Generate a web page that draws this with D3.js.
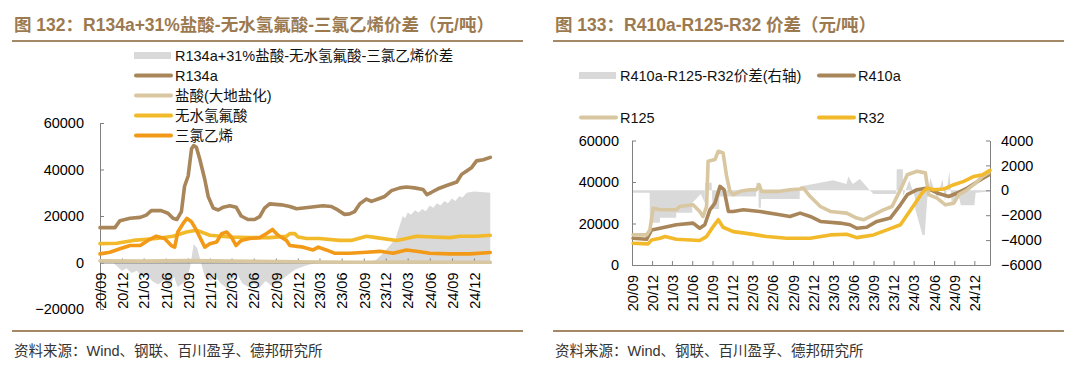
<!DOCTYPE html>
<html><head><meta charset="utf-8">
<script src="https://cdn.jsdelivr.net/npm/d3@7"></script>
<style>body{margin:0;background:#fff}svg{display:block}</style>
</head><body>
<svg id="c" width="1080" height="366"></svg>
<script>
// ---------------- DATA ----------------
const startDate = "2020-09-01", endDate = "2025-02-10";
const tickLabels = ["20/09","20/12","21/03","21/06","21/09","21/12","22/03","22/06","22/09","22/12","23/03","23/06","23/09","23/12","24/03","24/06","24/09","24/12"];
const leftYTicks = [-20000,0,20000,40000,60000];
const rightYTicks = [0,20000,40000,60000];
const rightY2Ticks = [-6000,-4000,-2000,0,2000,4000];

const leftTitle = "图 132：R134a+31%盐酸-无水氢氟酸-三氯乙烯价差（元/吨）";
const rightTitle = "图 133：R410a-R125-R32 价差（元/吨）";
const sourceText = "资料来源：Wind、钢联、百川盈孚、德邦研究所";
const leftNames = ["R134a+31%盐酸-无水氢氟酸-三氯乙烯价差","R134a","盐酸(大地盐化)","无水氢氟酸","三氯乙烯"];
const rightNames = ["R410a-R125-R32价差(右轴)","R410a","R125","R32"];

// left chart series
const spreadL = [["2020-09-01",0],["2020-10-20",300],["2020-11-10",-1500],["2020-12-01",-3500],["2020-12-20",-2500],["2021-01-10",-4500],["2021-02-01",-3500],["2021-02-20",-6000],["2021-03-15",-5000],["2021-04-05",-8000],["2021-05-01",-9500],["2021-05-25",-7500],["2021-06-15",-11000],["2021-07-05",-6000],["2021-07-20",-10500],["2021-08-10",-9000],["2021-08-25",-8000],["2021-09-10",-2000],["2021-09-25",8000],["2021-10-10",6000],["2021-10-25",0],["2021-11-10",-6000],["2021-12-05",-8000],["2021-12-25",-6000],["2022-01-15",-9000],["2022-02-10",-11000],["2022-03-05",-7000],["2022-03-25",-5000],["2022-04-15",-9000],["2022-05-10",-10500],["2022-06-01",-9000],["2022-06-25",-11000],["2022-07-20",-8000],["2022-08-15",-10000],["2022-09-10",-9000],["2022-10-01",-7000],["2022-10-25",-5000],["2022-11-20",-3000],["2022-12-15",-2000],["2023-01-15",-1000],["2023-02-15",-300],["2023-03-15",0],["2023-09-15",0],["2023-10-20",1000],["2023-11-20",4000],["2023-12-15",7000],["2024-01-10",10000],["2024-01-25",15000],["2024-02-10",20000],["2024-02-20",19000],["2024-03-01",21500],["2024-03-15",20500],["2024-04-01",22500],["2024-04-15",21500],["2024-05-01",23000],["2024-05-15",22000],["2024-06-01",24500],["2024-06-15",23500],["2024-07-01",25500],["2024-07-15",24500],["2024-08-01",26500],["2024-08-15",25500],["2024-09-01",27500],["2024-09-15",26500],["2024-10-01",28500],["2024-10-15",28000],["2024-11-01",30000],["2024-12-01",30500],["2025-02-07",30000]];
const r134a = [["2020-09-01",15000],["2020-11-02",15000],["2020-11-23",18000],["2021-01-04",19000],["2021-02-15",19400],["2021-03-12",20400],["2021-04-02",22300],["2021-05-13",22300],["2021-06-10",21200],["2021-07-01",19000],["2021-07-17",18500],["2021-08-05",21900],["2021-08-18",32800],["2021-09-02",37200],["2021-09-16",48900],["2021-09-25",50300],["2021-10-06",49600],["2021-10-20",44500],["2021-11-10",35700],["2021-11-24",28400],["2021-12-15",23400],["2022-01-05",22600],["2022-01-26",23800],["2022-02-22",24400],["2022-03-20",23800],["2022-04-10",20000],["2022-05-08",18500],["2022-06-05",18500],["2022-06-26",19700],["2022-07-16",23400],["2022-08-06",25200],["2022-09-24",24800],["2022-10-29",24100],["2022-11-26",23100],["2023-01-20",23800],["2023-03-15",24400],["2023-04-19",24100],["2023-05-16",22600],["2023-06-13",20700],["2023-07-04",20900],["2023-07-25",21900],["2023-08-15",25200],["2023-09-12",27300],["2023-10-03",26300],["2023-10-30",27300],["2023-11-27",28400],["2023-12-25",30900],["2024-01-29",32100],["2024-02-25",32500],["2024-03-30",32100],["2024-05-04",31400],["2024-05-20",29200],["2024-06-08",30200],["2024-07-05",31700],["2024-08-10",33100],["2024-09-21",34600],["2024-10-11",37900],["2024-11-01",39400],["2024-11-22",40900],["2024-12-12",43700],["2025-01-09",44200],["2025-02-07",45200]];
const hcl = [["2020-09-01",700],["2021-03-01",600],["2021-09-01",800],["2022-03-01",600],["2022-09-01",400],["2023-03-01",200],["2023-09-01",100],["2024-03-01",200],["2024-09-01",100],["2025-02-07",100]];
const hf = [["2020-09-01",8100],["2020-11-09",8300],["2021-01-17",9500],["2021-04-23",10300],["2021-07-01",11300],["2021-08-26",13100],["2021-10-06",13900],["2021-12-01",11700],["2022-02-22",11000],["2022-05-15",10700],["2022-08-06",10700],["2022-10-15",11300],["2022-10-29",12400],["2022-11-19",12400],["2022-12-02",11000],["2023-01-07",10300],["2023-03-01",10300],["2023-05-23",9500],["2023-07-11",9500],["2023-09-12",11300],["2023-10-23",10700],["2024-01-15",9500],["2024-02-25",10300],["2024-04-07",11300],["2024-06-15",11000],["2024-08-23",10700],["2024-10-04",11300],["2024-12-12",11300],["2025-02-07",11700]];
const tce = [["2020-09-01",3700],["2020-10-12",4400],["2020-11-23",5900],["2021-01-04",7300],["2021-02-15",7300],["2021-03-19",9500],["2021-04-23",11300],["2021-05-27",10300],["2021-06-24",7300],["2021-07-08",6600],["2021-07-21",13100],["2021-08-12",16800],["2021-08-28",19000],["2021-09-16",17500],["2021-10-06",13900],["2021-10-27",9500],["2021-11-10",6600],["2021-12-01",8100],["2021-12-29",8800],["2022-01-19",12400],["2022-02-09",13100],["2022-02-28",11000],["2022-03-20",7300],["2022-04-10",9500],["2022-05-15",10300],["2022-06-26",10700],["2022-07-23",12400],["2022-08-18",14200],["2022-09-10",11700],["2022-10-15",9500],["2022-10-29",7300],["2022-12-23",6600],["2023-02-03",5400],["2023-02-24",6600],["2023-03-29",5400],["2023-05-02",4000],["2023-07-04",4000],["2023-09-12",4400],["2023-11-07",4800],["2024-01-01",4000],["2024-02-25",5400],["2024-04-07",4800],["2024-06-01",4000],["2024-08-23",3700],["2024-11-15",3700],["2025-02-07",4300]];

// right chart series
const spreadR = [["2020-09-01",-200],["2020-11-20",-200],["2020-11-21",-2600],["2021-01-05",-2600],["2021-01-06",-2200],["2021-03-20",-2200],["2021-03-21",-1800],["2021-06-01",-1800],["2021-06-02",-1000],["2021-07-10",-300],["2021-07-28",-1000],["2021-07-29",600],["2021-08-28",600],["2021-09-01",-1500],["2021-10-01",-1500],["2021-10-02",-500],["2022-03-18",-500],["2022-03-19",600],["2022-03-28",600],["2022-03-29",-1400],["2022-04-08",-1400],["2022-04-09",-700],["2022-10-01",-700],["2022-10-02",300],["2023-01-01",600],["2023-03-01",800],["2023-05-01",500],["2023-05-10",1100],["2023-05-30",500],["2023-07-01",900],["2023-08-15",0],["2023-09-01",-300],["2023-12-14",-300],["2023-12-15",1700],["2024-01-12",1700],["2024-01-13",-500],["2024-02-10",800],["2024-03-07",-600],["2024-03-08",-1500],["2024-04-10",-3600],["2024-04-20",-3600],["2024-05-01",-800],["2024-05-15",1000],["2024-06-15",-600],["2024-07-10",900],["2024-07-21",-900],["2024-08-10",1500],["2024-08-20",-1000],["2024-09-20",-400],["2024-10-01",-1200],["2024-12-01",-1200],["2024-12-07",-200],["2025-02-10",-100]];
const r410a = [["2020-09-06",12900],["2020-11-06",12400],["2020-11-29",16900],["2021-01-06",17700],["2021-03-21",19400],["2021-06-05",20200],["2021-07-05",17700],["2021-07-28",19400],["2021-08-20",26600],["2021-09-12",29800],["2021-10-05",37900],["2021-10-23",36300],["2021-11-12",25800],["2021-12-04",25800],["2022-01-19",26600],["2022-04-04",25800],["2022-07-03",24200],["2022-08-18",23400],["2022-10-03",25000],["2022-11-18",23400],["2023-01-03",21000],["2023-04-02",20200],["2023-05-17",19400],["2023-06-17",17700],["2023-08-01",18200],["2023-09-16",21000],["2023-11-16",22600],["2024-01-01",29000],["2024-02-01",33900],["2024-03-16",36300],["2024-05-01",37100],["2024-06-15",34700],["2024-08-07",33000],["2024-09-14",34700],["2024-10-30",37100],["2024-12-29",41100],["2025-02-06",43500]];
const r125 = [["2020-09-06",14500],["2020-11-06",14500],["2020-11-21",16900],["2020-12-06",27400],["2021-01-06",26600],["2021-03-21",26600],["2021-04-05",28200],["2021-06-05",29000],["2021-07-05",25800],["2021-07-20",23400],["2021-08-05",28200],["2021-08-12",50000],["2021-09-12",50800],["2021-09-27",54800],["2021-10-19",54000],["2021-11-04",42700],["2021-11-19",35500],["2021-12-04",33900],["2022-01-04",35500],["2022-02-18",36300],["2022-03-19",36300],["2022-04-01",38700],["2022-04-11",35500],["2022-07-03",35500],["2022-08-18",36300],["2022-10-03",36600],["2022-10-18",37100],["2022-11-18",33000],["2023-01-03",28200],["2023-02-17",25800],["2023-05-02",25000],["2023-06-17",22600],["2023-07-17",21800],["2023-09-01",24200],["2023-10-16",26600],["2023-11-24",28200],["2024-01-01",36300],["2024-02-01",43500],["2024-03-16",45200],["2024-04-23",44400],["2024-05-08",33900],["2024-06-15",32200],["2024-07-23",29000],["2024-08-30",29800],["2024-09-22",33900],["2024-10-30",36300],["2024-12-07",39500],["2025-01-07",42700],["2025-02-04",44500]];
const r32 = [["2020-09-06",10500],["2020-11-13",10200],["2020-11-29",12100],["2021-01-06",12900],["2021-01-29",13700],["2021-03-21",12400],["2021-07-05",11800],["2021-08-05",13700],["2021-09-04",18500],["2021-09-27",21800],["2021-10-19",18200],["2021-12-04",16100],["2022-02-18",15000],["2022-05-04",13700],["2022-08-03",12900],["2022-11-18",12900],["2023-02-17",14500],["2023-05-02",14800],["2023-06-17",13200],["2023-09-01",14500],["2023-11-01",16900],["2024-01-01",19400],["2024-02-01",24200],["2024-03-08",29800],["2024-04-08",34700],["2024-05-01",37100],["2024-05-30",36300],["2024-07-15",36600],["2024-08-30",38700],["2024-10-14",40300],["2024-11-29",42700],["2025-01-07",43500],["2025-02-10",45600]];

// ---------------- STYLE ----------------
const C = {brown:"#A8865A", tan:"#D8C7A0", yellow:"#F2BA2A", orange:"#F29A17", gray:"#D9D9D9", title:"#9C7A4F", rule:"#A58865", axis:"#808080"};
const latin = "'Liberation Sans', Arial, 'Noto Sans CJK SC', sans-serif";
const pd = d3.timeParse("%Y-%m-%d");
const pt = d3.timeParse("%y/%m");
const tickDates = tickLabels.map(pt);
const svg = d3.select("#c");

function axisStyle(g){
  g.selectAll("path,line").attr("stroke", C.axis).attr("stroke-width",1);
  g.selectAll("text").attr("font-family", latin).attr("font-size","14.5px").attr("fill","#000");
}
function rotateX(g){
  g.selectAll("text").attr("transform","rotate(-90)").attr("x",-10).attr("y",0).attr("dy","0.36em").attr("text-anchor","end");
}
function drawLine(g, data, x, y, color){
  g.append("path").datum(data).attr("fill","none").attr("stroke",color).attr("stroke-width",3.6)
   .attr("stroke-linejoin","round").attr("stroke-linecap","round")
   .attr("d", d3.line().x(d=>x(pd(d[0]))).y(d=>y(d[1])));
}
function drawArea(g, data, x, y){
  g.append("path").datum(data).attr("fill",C.gray).attr("stroke","none")
   .attr("d", d3.area().x(d=>x(pd(d[0]))).y0(y(0)).y1(d=>y(d[1])));
}
function header(x0, x1, title){
  svg.append("text").attr("x",x0+2).attr("y",31).attr("font-family",latin).attr("font-weight","bold")
     .attr("font-size","17.5px").attr("fill",C.title).text(title);
  svg.append("line").attr("x1",x0).attr("x2",x1).attr("y1",41).attr("y2",41).attr("stroke",C.rule).attr("stroke-width",2);
  svg.append("line").attr("x1",x0).attr("x2",x1).attr("y1",331).attr("y2",331).attr("stroke",C.rule).attr("stroke-width",2);
  svg.append("text").attr("x",x0+2).attr("y",356).attr("font-family",latin).attr("font-size","14.5px").attr("fill","#333").text(sourceText);
}
function legendItem(x, y, name, color, isArea){
  if(isArea) svg.append("rect").attr("x",x).attr("y",y-3.5).attr("width",37).attr("height",7).attr("fill",color);
  else svg.append("line").attr("x1",x+2).attr("x2",x+37).attr("y1",y).attr("y2",y).attr("stroke",color).attr("stroke-width",4).attr("stroke-linecap","round");
  svg.append("text").attr("x",x+41).attr("y",y).attr("dy","0.36em").attr("font-family",latin).attr("font-size","14.5px").attr("fill","#111").text(name);
}

// ---------------- LEFT CHART ----------------
header(12, 523, leftTitle);
const xL = d3.scaleTime().domain([pd(startDate), pd(endDate)]).range([100, 491]);
const yL = d3.scaleLinear().domain([-20000, 60000]).range([309, 123]);
const gL = svg.append("g");
drawArea(gL, spreadL, xL, yL);
const gLy = svg.append("g").attr("transform","translate(100,0)")
  .call(d3.axisLeft(yL).tickValues(leftYTicks).tickSize(-4).tickSizeOuter(0).tickPadding(16).tickFormat(d3.format("d")));
axisStyle(gLy);
const gLx = svg.append("g").attr("transform",`translate(0,${yL(0)})`)
  .call(d3.axisBottom(xL).tickValues(tickDates).tickSize(-4).tickSizeOuter(0).tickFormat((d,i)=>tickLabels[i]));
axisStyle(gLx); rotateX(gLx);
const gLl = svg.append("g");
drawLine(gLl, r134a, xL, yL, C.brown);
drawLine(gLl, hcl, xL, yL, C.tan);
drawLine(gLl, hf, xL, yL, C.yellow);
drawLine(gLl, tce, xL, yL, C.orange);
const legColorsL = [C.gray, C.brown, C.tan, C.yellow, C.orange];
leftNames.forEach((n,i)=>legendItem(134, 55.5 + i*20, n, legColorsL[i], i===0));

// ---------------- RIGHT CHART ----------------
header(553, 1064, rightTitle);
const xR = d3.scaleTime().domain([pd(startDate), pd(endDate)]).range([632, 990]);
const yR = d3.scaleLinear().domain([0, 60000]).range([265, 140.5]);
const yR2 = d3.scaleLinear().domain([-6000, 4000]).range([265, 140.5]);
const gR = svg.append("g");
drawArea(gR, spreadR, xR, yR2);
const gRy = svg.append("g").attr("transform","translate(632,0)")
  .call(d3.axisLeft(yR).tickValues(rightYTicks).tickSize(-4).tickSizeOuter(0).tickPadding(13).tickFormat(d3.format("d")));
axisStyle(gRy);
const gRy2 = svg.append("g").attr("transform","translate(990,0)")
  .call(d3.axisRight(yR2).tickValues(rightY2Ticks).tickSize(-4).tickSizeOuter(0).tickPadding(11).tickFormat(d3.format("d")));
axisStyle(gRy2);
const gRx = svg.append("g").attr("transform",`translate(0,${yR(0)})`)
  .call(d3.axisBottom(xR).tickValues(tickDates).tickSize(-4).tickSizeOuter(0).tickFormat((d,i)=>tickLabels[i]));
axisStyle(gRx); rotateX(gRx);
const gRl = svg.append("g");
drawLine(gRl, r410a, xR, yR, C.brown);
drawLine(gRl, r125, xR, yR, C.tan);
drawLine(gRl, r32, xR, yR, C.yellow);
const legColorsR = [C.gray, C.brown, C.tan, C.yellow];
rightNames.forEach((n,i)=>legendItem(i%2===0 ? 579 : 817, i<2 ? 75.5 : 117.5, n, legColorsR[i], i===0));
</script>
</body></html>
